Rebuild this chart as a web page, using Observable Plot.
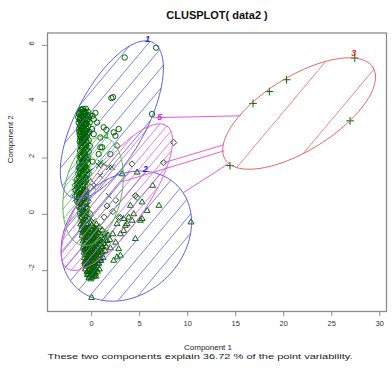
<!DOCTYPE html>
<html><head><meta charset="utf-8">
<script src="https://cdn.jsdelivr.net/npm/d3@7"></script>
<script src="https://cdn.jsdelivr.net/npm/@observablehq/plot@0.6"></script>
<style>body{margin:0;background:#fff}</style>
</head><body><div id="chart"></div>
<script>
// ---- tick labels ----
const xTicks = [0, 5, 10, 15, 20, 25, 30];
const yTicks = [-2, 0, 2, 4, 6];

// ---- cluster ellipses (data units): centre, two conjugate semi-axis vectors ----
const ellipseId = [1, 2, 3, 4, 5];
const ellipseCx = [2.10, 3.61, 21.6, 0.146, 2.625];
const ellipseCy = [3.36, -0.773, 3.58, 0.823, 0.61];
const ellipseUx = [4.28, 5.29, 7.69, 1.15, 5.20];
const ellipseUy = [2.74, 1.80, 1.635, 1.92, 2.53];
const ellipseVx = [-3.24, -4.26, -2.04, -2.93, -2.56];
const ellipseVy = [0.586, 1.45, 1.113, 0.203, 0.610];

// ---- segments joining clusters (magenta) ----
const segX1 = [6.32, 7.47, 3.2, 9.55];
const segY1 = [3.43, 1.83, 1.16, 0.77];
const segX2 = [15.5, 13.75, 13.82, 14.24];
const segY2 = [3.50, 2.47, 2.26, 1.80];

// ---- ellipse labels ----
const labelX = [5.82, 5.59, 27.3, 1.5, 7.08];
const labelY = [6.23, 1.61, 5.71, 2.79, 3.44];
const labelText = ["1", "2", "3", "4", "5"];

// ---- points per cluster ----
const clus1 = [
[6.71,5.92],[3.44,5.57],[2.05,4.13],[2.22,4.16],[6.29,3.56],[0.56,3.26],[1.25,3.09],[2.81,3.03],[2.47,2.79],[2.29,2.91],
[1.53,3.0],[0.9,2.73],[1.08,2.38],[0.73,2.14],[1.95,2.14],[0.21,3.38],[-0.2,3.52],[0.39,3.6],[0.04,3.03],[0.21,2.85],[0.9,2.38],
[-0.9,3.75],[-0.6,3.75],[-1.1,3.72],
[-1.2,3.65],[-0.8,3.66],[-0.4,3.64],[-0.95,3.6],
[-1.3,3.55],[-1.0,3.54],[-0.7,3.56],[-0.5,3.53],[0.1,3.5],
[-1.4,3.45],[-1.15,3.44],[-0.85,3.46],[-0.6,3.43],[-0.3,3.45],
[-1.25,3.35],[-1.0,3.34],[-0.75,3.36],[-0.45,3.33],
[-1.35,3.25],[-1.1,3.24],[-0.9,3.26],[-0.55,3.23],[-0.2,3.27],
[-1.2,3.15],[-0.95,3.14],[-0.7,3.16],[-0.35,3.13],
[-1.3,3.05],[-1.05,3.04],[-0.8,3.06],[-0.5,3.03],
[-1.15,2.95],[-0.9,2.94],[-0.6,2.96],[-0.25,2.93],
[-1.25,2.85],[-1.0,2.84],[-0.7,2.86],[-0.45,2.83],
[-1.1,2.75],[-0.85,2.74],[-0.55,2.76],
[-1.2,2.65],[-0.95,2.64],[-0.7,2.66],[-0.3,2.63],
[-1.05,2.55],[-0.8,2.54],[-0.5,2.56],
[-1.15,2.45],[-0.9,2.44],[-0.6,2.46],[-0.2,2.43],
[-1.2,2.25],[-0.95,2.24],[-0.65,2.26],[-0.3,2.23],
[-1.25,2.05],[-1.0,2.04],[-0.7,2.06],[-0.35,2.03],
[-1.3,1.85],[-1.0,1.84],[-0.75,1.86],[-0.4,1.83],[0.1,1.87],
[-1.35,1.65],[-1.05,1.64],[-0.8,1.66],[-0.45,1.63],
[-1.4,1.45],[-1.1,1.44],[-0.85,1.46],[-0.5,1.43],
[-1.5,1.25],[-1.15,1.24],[-0.9,1.26],[-0.6,1.23],
[-1.55,1.05],[-1.25,1.04],[-0.95,1.06],[-0.65,1.03],
[-1.6,0.85],[-1.3,0.84],[-1.0,0.86],[-0.7,0.83],
[-1.55,0.65],[-1.25,0.64],[-0.95,0.66],[-0.6,0.63],
[-1.5,0.45],[-1.2,0.44],[-0.9,0.46],[-0.55,0.43],
[-1.3,0.25],[-1.0,0.24],[-0.65,0.26],
[-1.25,0.05],[-0.95,0.04],[-0.6,0.06],[-0.2,0.03],
[-1.05,3.7],[-0.75,3.6],[-0.55,3.5],[-1.2,3.4],[-0.85,3.3],[-0.6,3.2],[-1.15,3.1],[-0.7,3.0],[-1.05,2.9],[-0.8,2.8],
[-0.65,2.7],[-1.0,2.6],[-0.7,2.5],[-1.0,2.4],[-0.8,2.3],[-1.1,2.1],[-0.6,2.0],[-0.9,1.9],[-1.2,1.7],[-0.65,1.7],
[-1.25,1.5],[-0.75,1.5],[-1.3,1.3],[-0.8,1.2],[-1.4,1.1],[-1.1,0.9],[-1.4,0.8],[-0.85,0.7],[-1.35,0.6],[-1.05,0.4],
[-0.7,0.4],[-1.15,0.2],[-0.8,0.1],[-1.05,-0.1],[-0.65,-0.2],[-0.85,-0.3],
[-1.3,3.6],[-0.65,3.65],[-1.0,3.48],[-0.4,3.38],[-1.1,3.3],[-0.7,3.22],[-1.0,3.12],[-0.55,3.08],[-1.3,2.95],[-0.8,2.9],
[-0.4,2.88],[-1.2,2.78],[-0.7,2.76],[-0.95,2.7],[-1.25,2.58],[-0.6,2.6],[-0.85,2.5],[-1.1,2.35],[-0.55,2.3],[-0.85,2.2],
[-1.15,2.0],[-0.5,1.95],[-0.95,1.78],[-1.2,1.6],[-0.6,1.58],[-1.0,1.4],[-0.65,1.3],[-1.2,1.15],[-0.9,1.0],[-1.25,0.9],
[-0.55,0.8],[-1.2,0.7],[-0.8,0.55],[-1.35,0.4],[-0.9,0.3],[-0.5,0.2],[-1.0,0.12],[-0.75,-0.05]
];
const clus2 = [
[-1.15,-0.35],[-0.85,-0.34],[-0.5,-0.36],[-0.1,-0.33],[0.5,-0.35],
[-1.0,-0.45],[-0.7,-0.44],[-0.3,-0.46],[0.15,-0.43],[0.8,-0.45],
[-1.1,-0.55],[-0.8,-0.54],[-0.45,-0.56],[0.0,-0.53],[0.45,-0.55],[1.1,-0.56],
[-0.95,-0.65],[-0.6,-0.64],[-0.2,-0.66],[0.25,-0.63],[0.7,-0.65],[1.4,-0.64],
[-1.0,-0.75],[-0.7,-0.74],[-0.35,-0.76],[0.05,-0.73],[0.5,-0.75],[1.0,-0.76],[1.7,-0.74],
[-0.85,-0.85],[-0.5,-0.84],[-0.1,-0.86],[0.3,-0.83],[0.75,-0.85],[1.3,-0.84],
[-0.9,-0.95],[-0.6,-0.94],[-0.25,-0.96],[0.15,-0.93],[0.55,-0.95],[1.0,-0.96],[1.6,-0.94],
[-0.8,-1.05],[-0.45,-1.04],[-0.05,-1.06],[0.35,-1.03],[0.8,-1.05],[1.25,-1.04],
[-0.85,-1.15],[-0.55,-1.14],[-0.2,-1.16],[0.2,-1.13],[0.6,-1.15],[1.05,-1.16],[1.5,-1.14],
[-0.75,-1.25],[-0.4,-1.24],[0.0,-1.26],[0.4,-1.23],[0.85,-1.25],
[-0.8,-1.35],[-0.5,-1.34],[-0.15,-1.36],[0.25,-1.33],[0.65,-1.35],[1.1,-1.34],
[-0.7,-1.45],[-0.35,-1.44],[0.05,-1.46],[0.45,-1.43],[0.9,-1.45],
[-0.75,-1.55],[-0.45,-1.54],[-0.1,-1.56],[0.3,-1.53],[0.7,-1.55],[1.2,-1.54],
[-0.65,-1.65],[-0.3,-1.64],[0.1,-1.66],[0.5,-1.63],[0.95,-1.65],
[-0.7,-1.75],[-0.4,-1.74],[-0.05,-1.76],[0.35,-1.73],[0.75,-1.75],
[-0.6,-1.85],[-0.25,-1.84],[0.15,-1.86],[0.55,-1.83],
[-0.65,-1.95],[-0.3,-1.94],[0.05,-1.96],[0.4,-1.93],[0.8,-1.95],
[-0.5,-2.05],[-0.15,-2.04],[0.25,-2.06],[0.6,-2.03],
[-0.45,-2.15],[-0.1,-2.14],[0.2,-2.16],
[-0.3,-2.25],[0.05,-2.24],
[-0.95,-0.4],[-0.6,-0.5],[-0.25,-0.6],[0.1,-0.7],[-0.55,-0.8],[-0.2,-0.9],[0.2,-1.0],[-0.35,-1.1],[0.0,-1.2],[-0.6,-1.3],
[0.1,-1.4],[-0.25,-1.5],[0.5,-1.5],[-0.5,-1.6],[0.2,-1.7],[-0.15,-1.8],[0.35,-1.9],[-0.4,-2.0],[0.0,-2.1],[-0.2,-2.2],
[0.4,-2.1],[0.6,-1.75],[0.7,-1.3],[0.45,-0.9],[0.9,-1.1],[-0.75,-1.7],[-0.9,-1.2],[-0.85,-0.6],[1.2,-0.9],[1.4,-1.3],
[0.95,-1.55],[0.3,-2.2],[-0.1,-2.3],[0.15,-1.55],[-0.4,-1.35],[-0.1,-1.25],[0.55,-1.2],[0.3,-0.6],[-0.45,-0.7],[0.65,-0.8],
[-0.7,-0.6],[-0.35,-0.65],[0.0,-0.8],[0.4,-0.7],[-0.65,-0.9],[-0.3,-1.0],[0.1,-1.1],[0.5,-1.05],[-0.6,-1.2],[-0.2,-1.3],
[0.3,-1.25],[0.7,-1.45],[-0.55,-1.45],[-0.05,-1.5],[0.4,-1.6],[-0.45,-1.8],[0.05,-1.85],[0.5,-1.95],[-0.2,-1.95],[0.15,-2.0],
[-0.35,-2.1],[0.45,-2.2],[-0.05,-2.15],[0.8,-1.6],[1.0,-1.35],[1.15,-1.15],[0.85,-0.95],[0.6,-0.6],[1.3,-0.7],[-0.3,-1.65],
[0.25,-1.45],[-0.15,-1.05],[0.2,-0.85],[-0.45,-0.5],[0.0,-0.4],[0.35,-0.5],
[3.17,1.43],[4.73,1.49],[6.35,1.02],[4.03,0.31],[5.25,0.43],[5.77,0.13],[7.0,0.31],[10.35,-0.28],[3.85,-0.11],[4.2,-0.22],
[3.33,-0.16],[2.64,-0.34],[5.07,-0.22],[4.38,0.01],[3.51,-0.4],[4.55,-0.87],[3.69,-0.34],[3.33,-0.58],[2.99,-0.7],[2.81,-1.23],
[2.29,-1.64],[2.99,-1.46],[2.64,-1.52],[0.21,-2.06],[0.0,-2.96],[5.25,-0.16],[1.9,-0.9],[2.2,-0.7],[1.95,-1.2],[2.5,-1.0]
];
const clus3 = [[14.4,1.73],[16.8,3.94],[18.5,4.36],[20.3,4.78],[27.4,5.55],[26.9,3.32]];
const clus4 = [
[-1.0,2.35],[-0.75,2.34],[-0.45,2.36],
[-1.05,2.15],[-0.8,2.14],[-0.5,2.16],
[-1.1,1.95],[-0.85,1.94],[-0.55,1.96],
[-1.15,1.75],[-0.9,1.74],[-0.6,1.76],
[-1.2,1.55],[-0.95,1.54],[-0.65,1.56],[-0.2,1.53],
[-1.25,1.35],[-1.0,1.34],[-0.7,1.36],[-0.3,1.33],
[-1.7,1.15],[-1.35,1.14],[-1.05,1.16],[-0.75,1.13],[-0.4,1.15],
[-1.8,0.95],[-1.45,0.94],[-1.15,0.96],[-0.85,0.93],[-0.5,0.95],[0.2,0.97],
[-1.75,0.75],[-1.4,0.74],[-1.1,0.76],[-0.8,0.73],[-0.45,0.75],
[-1.7,0.55],[-1.35,0.54],[-1.05,0.56],[-0.75,0.53],[-0.3,0.55],
[-1.4,0.35],[-1.1,0.34],[-0.8,0.36],[-0.4,0.33],
[-1.2,0.15],[-0.9,0.14],[-0.5,0.16],
[-1.1,-0.05],[-0.8,-0.04],[-0.4,-0.06],
[-1.2,-0.15],[-0.9,-0.14],[-0.55,-0.16],[-0.1,-0.13],
[-1.05,-0.25],[-0.75,-0.24],[-0.35,-0.26],[0.2,-0.23],
[0.9,1.84],[1.77,1.67],[2.12,1.67],[1.25,1.79],[0.9,1.37],[0.21,1.13],[1.77,0.66],[0.73,1.73]
];
const clus5 = [[8.54,2.55],[2.64,2.44],[4.2,1.79],[7.5,1.84],[4.55,0.66],[2.99,-0.11],[4.73,0.6],[2.81,-0.11],[1.6,0.3],[2.2,0.1],[1.3,-0.1],[2.5,0.5]];

// ---- layout / style ----
const W = 392, H = 373, mL = 47, mR = 6, mT = 32.5, mB = 62;
const xDomain = [-4.6, 30.7], yDomain = [-3.45, 6.44];
const clusterColor = ["#5f5fe0", "#5f5fe0", "#e06666", "#55b855", "#e05ee0"];
const labelColor = ["#2222dd", "#2222dd", "#e02828", "#22aa22", "#e020e0"];
const hatchSpacing = [12.8, 12.3, 42, 6.5, 6.5];
const hatchOffset = [0, 0, 36.3, 0, 0];
const hatchAngle = 50;
const pointColor = "#006400";
const subtitle = "These two components explain 36.72 % of the point variability.";

const xs = d3.scaleLinear(xDomain, [mL, W - mR]);
const ys = d3.scaleLinear(yDomain, [H - mB, mT]);

const outline = [];
const hatch = [];
ellipseId.forEach((id, i) => {
  for (let k = 0; k <= 120; k++) {
    const t = 2 * Math.PI * k / 120;
    outline.push({id,
      x: ellipseCx[i] + ellipseUx[i] * Math.cos(t) + ellipseVx[i] * Math.sin(t),
      y: ellipseCy[i] + ellipseUy[i] * Math.cos(t) + ellipseVy[i] * Math.sin(t)});
  }
  const a = hatchAngle * Math.PI / 180;
  const n = [Math.sin(a), Math.cos(a)];
  const kx = xs(1) - xs(0), ky = ys(1) - ys(0);
  const C = [xs(ellipseCx[i]), ys(ellipseCy[i])];
  const U = [ellipseUx[i] * kx, ellipseUy[i] * ky];
  const V = [ellipseVx[i] * kx, ellipseVy[i] * ky];
  const A = n[0] * U[0] + n[1] * U[1], B = n[0] * V[0] + n[1] * V[1];
  const R = Math.hypot(A, B), phi = Math.atan2(B, A);
  const nc = n[0] * C[0] + n[1] * C[1];
  const s = hatchSpacing[i], off = hatchOffset[i];
  const P = t => [C[0] + U[0] * Math.cos(t) + V[0] * Math.sin(t), C[1] + U[1] * Math.cos(t) + V[1] * Math.sin(t)];
  for (let c = Math.ceil((nc - R - off) / s) * s + off; c < nc + R; c += s) {
    const q = (c - nc) / R;
    if (Math.abs(q) >= 0.999) continue;
    const dt = Math.acos(q);
    const p1 = P(phi + dt), p2 = P(phi - dt);
    hatch.push({id, x1: xs.invert(p1[0]), y1: ys.invert(p1[1]), x2: xs.invert(p2[0]), y2: ys.invert(p2[1])});
  }
});

const segs = segX1.map((_, i) => ({x1: segX1[i], y1: segY1[i], x2: segX2[i], y2: segY2[i]}));
const labels = labelText.map((t, i) => ({x: labelX[i], y: labelY[i], t, c: labelColor[i]}));

const dotOpts = {x: d => d[0], y: d => d[1], stroke: pointColor, fill: "none", strokeWidth: 1};

const chart = Plot.plot({
  width: W, height: H, marginLeft: mL, marginRight: mR, marginTop: mT, marginBottom: mB,
  x: {domain: xDomain, label: null},
  y: {domain: yDomain, label: null},
  style: {fontFamily: "'Liberation Sans', Arial, sans-serif", fontSize: "7.5px", background: "#fff", color: "#222"},
  marks: [
    Plot.dot(clus1, {...dotOpts, symbol: "circle", r: 2.7}),
    Plot.dot(clus2, {...dotOpts, symbol: "triangle2", r: 2.8}),
    Plot.dot(clus3, {...dotOpts, symbol: "plus", r: 2.6}),
    Plot.dot(clus4, {...dotOpts, symbol: "times", r: 2.6}),
    Plot.dot(clus5, {...dotOpts, symbol: "diamond2", r: 2.8}),
    Plot.link(hatch, {x1: "x1", y1: "y1", x2: "x2", y2: "y2", stroke: d => clusterColor[d.id - 1], strokeWidth: 0.8}),
    Plot.line(outline, {x: "x", y: "y", z: "id", stroke: d => clusterColor[d.id - 1], strokeWidth: 1}),
    Plot.link(segs, {x1: "x1", y1: "y1", x2: "x2", y2: "y2", stroke: "#e05ee0", strokeWidth: 1}),
    Plot.text(labels, {x: "x", y: "y", text: "t", fill: "c", fontWeight: "bold", fontStyle: "italic", fontSize: 9}),
    Plot.frame({stroke: "#8a8a8a", strokeWidth: 1.3}),
    Plot.axisX(xTicks, {tickSize: 5, tickPadding: 4, stroke: "#8a8a8a", fill: "#333", label: null}),
    Plot.axisY(yTicks, {tickSize: 5, tickFormat: () => "", stroke: "#8a8a8a", label: null}),
    Plot.text(yTicks, {y: d => d, text: d => String(d), frameAnchor: "left", rotate: -90, dx: -16, fill: "#333"}),
    Plot.text(["CLUSPLOT( data2 )"], {frameAnchor: "top", dy: -22, fontWeight: "bold", fontSize: 11, fill: "#111"}),
    Plot.text(["Component 1"], {frameAnchor: "bottom", dx: -9, dy: 38, fontSize: 8, fill: "#222"}),
    Plot.text(["Component 2"], {frameAnchor: "left", rotate: -90, dx: -37, dy: -9, fontSize: 8, fill: "#222"}),
    Plot.text([subtitle], {frameAnchor: "bottom-left", textAnchor: "start", dy: 47, fontSize: 8, fill: "#222"})
  ]
});
d3.select(chart).selectAll("text").filter(function () { return this.textContent === subtitle; })
  .attr("textLength", 305).attr("lengthAdjust", "spacingAndGlyphs");
document.getElementById("chart").appendChild(chart);
</script>
</body></html>
